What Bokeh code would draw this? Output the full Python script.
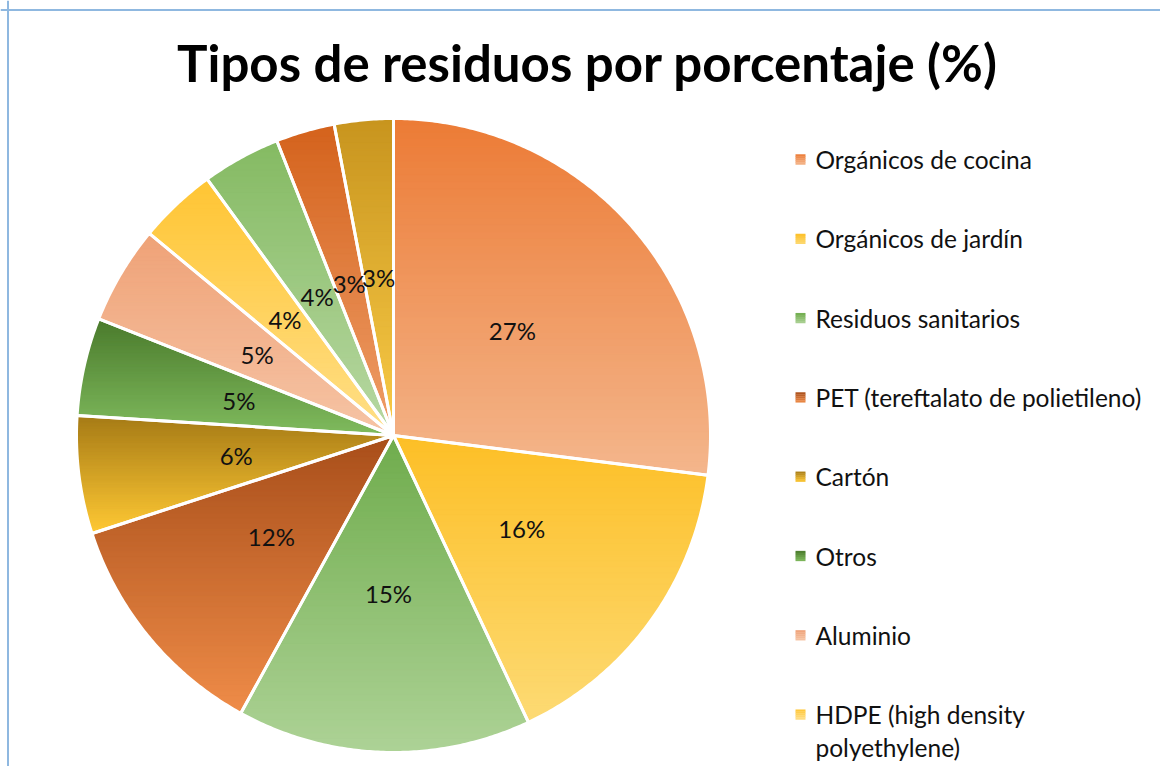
import numpy as np
from bokeh.plotting import figure
from bokeh.models import Range1d, Span
from bokeh.core.properties import value
from bokeh.embed import file_html
from bokeh.resources import INLINE

# ---------------- data ----------------
title_text = "Tipos de residuos por porcentaje (%)"
categories = [
    "Orgánicos de cocina",
    "Orgánicos de jardín",
    "Residuos sanitarios",
    "PET (tereftalato de polietileno)",
    "Cartón",
    "Otros",
    "Aluminio",
    "HDPE (high density\npolyethylene)",
    "Categoría 9 (no visible)",
    "Categoría 10 (no visible)",
    "Categoría 11 (no visible)",
]
percent = [27, 16, 15, 12, 6, 5, 5, 4, 4, 3, 3]
color_top = ["#EC7B35", "#FDBF26", "#6FAC4C", "#A84E1A", "#A57A16", "#4A7A2C",
             "#EFA277", "#FFC533", "#84BA62", "#D4621C", "#C8941E"]
color_bottom = ["#F4B68C", "#FDDA74", "#ADD296", "#EF8C48", "#FFC934", "#80BB5E",
                "#F6C4A5", "#FFDF88", "#B8D8A3", "#EF9E68", "#F9CB47"]
legend_count = 8  # entries visible in the reference legend

# ---------------- layout ----------------
W, H = 1160, 766
def fx(ix):
    return ix
def fy(iy):
    return H - iy

CX, CY, R = fx(393), fy(435), 317.0
LABEL_R = 0.5 * R

p = figure(width=W, height=H, output_backend="svg", toolbar_location=None,
           x_range=Range1d(0, W), y_range=Range1d(0, H),
           min_border=0, x_axis_location=None, y_axis_location=None)
p.grid.visible = False
p.outline_line_color = None
p.background_fill_color = "white"
p.border_fill_color = "white"


def hex2rgb(h):
    h = h.lstrip("#")
    return np.array([int(h[i:i + 2], 16) for i in (0, 2, 4)], dtype=float)


def rgb2hex(c):
    c = np.clip(np.round(c), 0, 255).astype(int)
    return "#%02x%02x%02x" % tuple(c)


def clip_y(pts, y0, keep_above):
    out = []
    n = len(pts)
    for i in range(n):
        cur, prev = pts[i], pts[i - 1]
        cin = cur[1] >= y0 if keep_above else cur[1] <= y0
        pin = prev[1] >= y0 if keep_above else prev[1] <= y0
        if cin:
            if not pin:
                t = (y0 - prev[1]) / (cur[1] - prev[1])
                out.append((prev[0] + t * (cur[0] - prev[0]), y0))
            out.append(cur)
        elif pin:
            t = (y0 - prev[1]) / (cur[1] - prev[1])
            out.append((prev[0] + t * (cur[0] - prev[0]), y0))
    return out


total = float(sum(percent))
cum = np.concatenate([[0.0], np.cumsum(percent)]) / total

band_xs, band_ys, band_cols = [], [], []
slice_xs, slice_ys = [], []
lab_x, lab_y, lab_t = [], [], []

for i, v in enumerate(percent):
    a0 = np.pi / 2 - cum[i] * 2 * np.pi
    a1 = np.pi / 2 - cum[i + 1] * 2 * np.pi
    nseg = max(4, int(abs(a0 - a1) / np.radians(0.5)))
    th = np.linspace(a0, a1, nseg + 1)
    poly = [(CX, CY)] + [(CX + R * np.cos(t), CY + R * np.sin(t)) for t in th]
    slice_xs.append([q[0] for q in poly])
    slice_ys.append([q[1] for q in poly])
    ys = [q[1] for q in poly]
    ytop, ybot = max(ys), min(ys)
    ctop, cbot = hex2rgb(color_top[i]), hex2rgb(color_bottom[i])
    nb = 50
    edges = np.linspace(ytop, ybot, nb + 1)
    for b in range(nb):
        hi, lo = edges[b] + 0.4, edges[b + 1] - 0.4
        part = clip_y(clip_y(poly, lo, True), hi, False)
        if len(part) < 3:
            continue
        f = (b + 0.5) / nb
        col = rgb2hex(ctop + (cbot - ctop) * f)
        band_xs.append([q[0] for q in part])
        band_ys.append([q[1] for q in part])
        band_cols.append(col)
    mid = (a0 + a1) / 2
    lab_x.append(CX + LABEL_R * np.cos(mid))
    lab_y.append(CY + LABEL_R * np.sin(mid))
    lab_t.append(f"{v / total * 100:.0f}%")

p.patches(xs=band_xs, ys=band_ys, fill_color=band_cols, line_color=band_cols,
          line_width=0.8)
p.patches(xs=slice_xs, ys=slice_ys, fill_color=None, line_color="white",
          line_width=3, line_join="round")

p.text(x=lab_x, y=lab_y, text=lab_t, text_align="center", text_baseline="middle",
       text_font=value("Lato"), text_font_size="24px", text_color="#111111")

# title
p.text(x=[fx(587)], y=[fy(62)], text=[title_text], text_align="center",
       text_baseline="middle", text_font=value("Lato"), text_font_style="bold",
       text_font_size="51px", text_color="#000000")

# legend (manual)
LEG_Y0, LEG_DY = 159.0, 79.3
sw_x0, sw_w, sw_h = fx(795), 10, 10
leg_tx, leg_ty, leg_tt = [], [], []
sw_x, sw_y, sw_c = [], [], []
for i in range(legend_count):
    yc = fy(LEG_Y0 + i * LEG_DY)
    ctop, cbot = hex2rgb(color_top[i]), hex2rgb(color_bottom[i])
    ns = 5
    for k in range(ns):
        f = (k + 0.5) / ns
        sw_x.append(sw_x0 + sw_w / 2)
        sw_y.append(yc + sw_h / 2 - (k + 0.5) * sw_h / ns)
        sw_c.append(rgb2hex(ctop + (cbot - ctop) * f))
    for j, line in enumerate(categories[i].split("\n")):
        leg_tx.append(fx(815))
        leg_ty.append(yc - j * 33)
        leg_tt.append(line)

p.rect(x=sw_x, y=sw_y, width=sw_w, height=sw_h / 5 + 0.3, fill_color=sw_c,
       line_color=None)
p.text(x=leg_tx, y=leg_ty, text=leg_tt, text_align="left", text_baseline="middle",
       text_font=value("Lato"), text_font_size="24.5px", text_color="#111111")

# chart-area border (top and left edges visible)
p.add_layout(Span(location=fy(9.5), dimension="width", line_color="#8FB8E0", line_width=2))
p.add_layout(Span(location=fx(7.5), dimension="height", line_color="#8FB8E0", line_width=2))

open("out.html", "w").write(file_html(p, INLINE))
